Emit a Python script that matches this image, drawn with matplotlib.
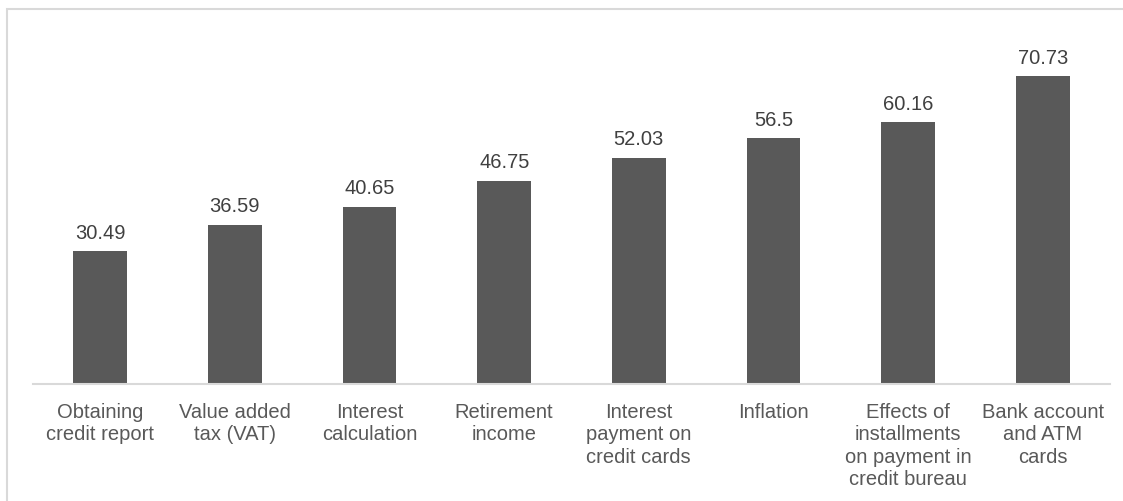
import matplotlib
matplotlib.use("Agg")
import matplotlib.pyplot as plt
from matplotlib.patches import Rectangle

categories = [
    "Obtaining\ncredit report",
    "Value added\ntax (VAT)",
    "Interest\ncalculation",
    "Retirement\nincome",
    "Interest\npayment on\ncredit cards",
    "Inflation",
    "Effects of\ninstallments\non payment in\ncredit bureau",
    "Bank account\nand ATM\ncards",
]
values = [30.49, 36.59, 40.65, 46.75, 52.03, 56.5, 60.16, 70.73]
value_labels = ["30.49", "36.59", "40.65", "46.75", "52.03", "56.5", "60.16", "70.73"]

plt.rcParams['font.family'] = ['Liberation Sans', 'DejaVu Sans']

fig = plt.figure(figsize=(11.23, 5.02), dpi=100)
fig.patch.set_facecolor('white')

# outer frame (cut at right & bottom)
fig.patches.append(Rectangle((7/1123, -0.05), 1.2, (502-10)/502 + 0.05,
                             transform=fig.transFigure, fill=False,
                             edgecolor='#d9d9d9', linewidth=1.5, clip_on=False))

ax = fig.add_axes([33/1123, (502-385)/502, (1110-33)/1123, (385-37)/502])
x = range(len(categories))
bars = ax.bar(x, values, width=0.40, color='#595959', zorder=2)
ax.set_xlim(-0.5, len(categories) - 0.5)
ax.set_ylim(0, 80)

for xi, v, lab in zip(x, values, value_labels):
    ax.annotate(lab, (xi, v), xytext=(0, 7), textcoords='offset points',
                ha='center', va='bottom', fontsize=14.5, color='#404040')

for s in ['top', 'right', 'left']:
    ax.spines[s].set_visible(False)
ax.spines['bottom'].set_color('#d9d9d9')
ax.spines['bottom'].set_linewidth(1.5)
ax.set_yticks([])
ax.set_xticks(list(x))
ax.set_xticklabels(categories, fontsize=14.5, color='#595959', linespacing=1.22, va='top')
ax.tick_params(axis='x', length=0, pad=13)

fig.savefig('out.png', dpi=100, facecolor='white')
